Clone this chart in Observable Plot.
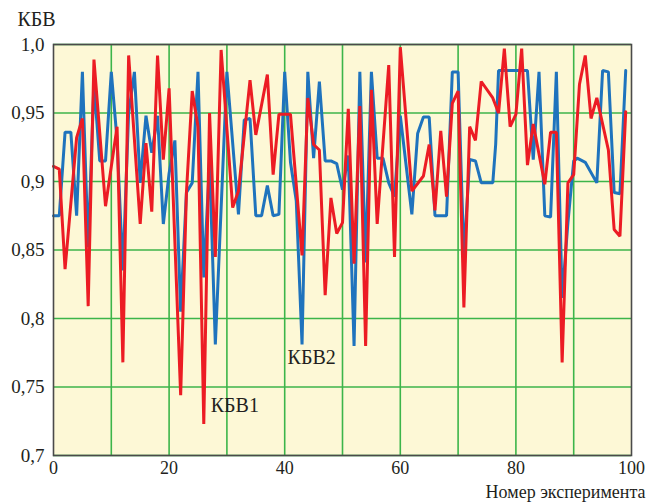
<!DOCTYPE html>
<html>
<head>
<meta charset="utf-8">
<script src="https://cdn.jsdelivr.net/npm/d3@7"></script>
<script src="https://cdn.jsdelivr.net/npm/@observablehq/plot@0.6"></script>
<style>
  html, body { margin: 0; padding: 0; background: #ffffff; }
  #chart svg, #chart svg text { font-family: "Liberation Serif", "Times New Roman", serif !important; }
</style>
</head>
<body>
<div id="chart"></div>
<script>
// КБВ1 (red) vertices
const redX = [0,1,2,4,5,6,7,9,11,12,13,15,16,17,18,19,20,22,23,24,25,26,27,28,29,31,32,34,35,37,38,39,41,43,44,45,46,47,48,49,50,51,52,53,54,55,56,58,59,60,62,64,65,66,67,68,69,70,71,72,73,74,76,77,78,79,80,81,82,83,85,86,87,88,89,90,91,92,93,94,96,97,98,99];
const redY = [0.911,0.909,0.836,0.932,0.946,0.809,0.989,0.882,0.940,0.768,0.992,0.869,0.928,0.878,0.992,0.916,0.968,0.744,0.892,0.966,0.940,0.723,0.950,0.845,0.996,0.881,0.893,0.974,0.934,0.978,0.905,0.949,0.949,0.846,0.961,0.927,0.923,0.817,0.888,0.862,0.870,0.953,0.840,0.955,0.780,0.967,0.869,0.985,0.845,0.998,0.893,0.904,0.927,0.879,0.937,0.889,0.957,0.966,0.808,0.940,0.930,0.973,0.961,0.950,0.997,0.940,0.949,0.997,0.912,0.942,0.898,0.936,0.936,0.768,0.899,0.905,0.971,0.992,0.946,0.961,0.923,0.865,0.860,0.951];

// КБВ2 (blue) vertices
const blueX = [0,1,2,3,4,5,6,7,8,9,10,11,12,13,14,15,16,17,18,19,20,21,22,23,24,25,26,27,28,30,32,33,34,35,36,37,38,39,40,41,42,43,44,45,46,47,48,49,50,51,52,53,54,55,56,57,58,59,60,62,63,64,65,66,68,69,70,71,72,73,74,76,76.5,77,82,83,84,85,86,87,88,89,90,90.6,92,94,95,96,97,98,99];
const blueY = [0.875,0.875,0.936,0.936,0.875,0.980,0.852,0.972,0.915,0.915,0.980,0.930,0.835,0.950,0.980,0.899,0.948,0.921,0.948,0.869,0.906,0.930,0.805,0.892,0.899,0.980,0.830,0.915,0.781,0.980,0.876,0.945,0.946,0.875,0.875,0.897,0.875,0.876,0.980,0.914,0.886,0.781,0.980,0.917,0.973,0.915,0.915,0.913,0.894,0.919,0.780,0.980,0.841,0.980,0.917,0.917,0.899,0.889,0.948,0.876,0.935,0.947,0.947,0.875,0.875,0.980,0.980,0.845,0.916,0.915,0.899,0.899,0.927,0.981,0.981,0.916,0.980,0.875,0.874,0.980,0.815,0.870,0.915,0.917,0.914,0.899,0.981,0.980,0.892,0.891,0.981];

const xTicks = [0, 20, 40, 60, 80, 100];
const xGrid = [10, 20, 30, 40, 50, 60, 70, 80, 90];
const yTicks = [0.7, 0.75, 0.8, 0.85, 0.9, 0.95, 1.0];
const yTickLabels = ["0,7", "0,75", "0,8", "0,85", "0,9", "0,95", "1,0"];
const yTitle = "КБВ";
const xTitle = "Номер эксперимента";
const seriesLabels = [
  {name: "КБВ1", x: 27.2, y: 0.7365},
  {name: "КБВ2", x: 40.5, y: 0.7715}
];

const red = redX.map((x, i) => ({x, y: redY[i]}));
const blue = blueX.map((x, i) => ({x, y: blueY[i]}));

const serif = "Liberation Serif";

const chart = Plot.plot({
  width: 647,
  height: 504,
  marginLeft: 53,
  marginRight: 16,
  marginTop: 44,
  marginBottom: 49,
  style: {fontFamily: serif, fontSize: "18px", color: "#231f20", background: "#ffffff"},
  x: {domain: [0, 100]},
  y: {domain: [0.7, 1.0]},
  marks: [
    Plot.frame({fill: "#fdf8d6"}),
    Plot.ruleX(xGrid, {stroke: "#3cb54a", strokeWidth: 1.6}),
    Plot.ruleY(yTicks, {stroke: "#3cb54a", strokeWidth: 1.6}),
    Plot.line(blue, {x: "x", y: "y", stroke: "#1f73bd", strokeWidth: 3, strokeLinejoin: "miter"}),
    Plot.line(red, {x: "x", y: "y", stroke: "#ec1c24", strokeWidth: 3, strokeLinejoin: "miter"}),
    Plot.axisX({ticks: xTicks, tickSize: 0, tickPadding: 6, label: null, fontSize: 18, fontFamily: serif}),
    Plot.axisY({ticks: yTicks, tickSize: 0, tickPadding: 9, label: null, fontSize: 19, fontFamily: serif,
      tickFormat: d => yTickLabels[yTicks.indexOf(d)]}),
    Plot.text([yTitle], {frameAnchor: "top-left", textAnchor: "start", lineAnchor: "middle", dx: -36, dy: -25, fontSize: 20, fontFamily: serif}),
    Plot.text([xTitle], {frameAnchor: "bottom-right", textAnchor: "end", lineAnchor: "middle", dx: 14, dy: 37, fontSize: 18, fontFamily: serif}),
    Plot.text(seriesLabels, {x: "x", y: "y", text: "name", textAnchor: "start", lineAnchor: "middle", fontSize: 20, fill: "#231f20", fontFamily: serif}),
    Plot.frame({stroke: "#4a4a4a", strokeWidth: 1.6})
  ]
});
document.getElementById("chart").appendChild(chart);
</script>
</body>
</html>
